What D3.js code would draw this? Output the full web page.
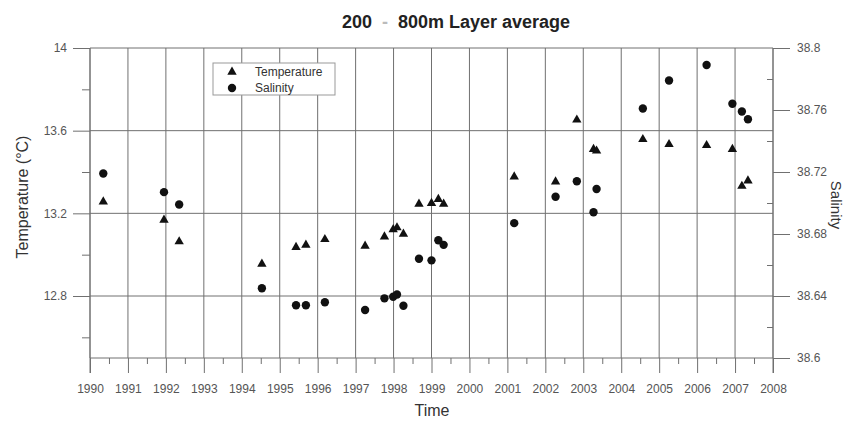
<!DOCTYPE html>
<html>
<head>
<meta charset="utf-8">
<script src="https://cdn.jsdelivr.net/npm/d3@7"></script>
<style>
  html, body { margin: 0; padding: 0; background: #fff; }
  svg { display: block; font-family: "Liberation Sans", Arial, sans-serif; }
</style>
</head>
<body>
<svg id="chart" width="845" height="421"></svg>
<script>
// ---- Data ----
const yearTicks = [1990,1991,1992,1993,1994,1995,1996,1997,1998,1999,2000,2001,2002,2003,2004,2005,2006,2007,2008];
const halfYearTicks = yearTicks.slice(0, -1).map(y => y + 0.5);
const tempTicks = [12.8, 13.2, 13.6, 14];
const tempMinorTicks = [12.6, 13.0, 13.4, 13.8];
const salTicks = [38.6, 38.64, 38.68, 38.72, 38.76, 38.8];
const salMinorTicks = [38.62, 38.66, 38.70, 38.74, 38.78];

const sampleTimes = [1990.35, 1991.95, 1992.35, 1994.53, 1995.43, 1995.69, 1996.19, 1997.25, 1997.76, 1997.99,
                     1998.09, 1998.26, 1998.67, 1999.00, 1999.18, 1999.32, 2001.18, 2002.27, 2002.83, 2003.27,
                     2003.35, 2004.57, 2005.26, 2006.25, 2006.93, 2007.18, 2007.34];
const temperature = [13.256, 13.168, 13.063, 12.955, 13.036, 13.047, 13.074, 13.042, 13.087, 13.122,
                     13.131, 13.100, 13.245, 13.249, 13.268, 13.245, 13.377, 13.353, 13.652, 13.510,
                     13.502, 13.558, 13.534, 13.529, 13.510, 13.332, 13.358];
const salinity = [38.719, 38.707, 38.699, 38.645, 38.634, 38.634, 38.636, 38.631, 38.6385, 38.6395,
                  38.641, 38.6337, 38.664, 38.663, 38.676, 38.673, 38.687, 38.704, 38.714, 38.694,
                  38.709, 38.761, 38.779, 38.789, 38.764, 38.759, 38.754];

(function () {
// ---- Layout ----
const svg = d3.select("#chart");
const pLeft = 90, pRight = 773, pTop = 48, pBottom = 358;

const x = d3.scaleLinear().domain([1990, 2008]).range([pLeft, pRight]);
const yT = d3.scaleLinear().domain([12.5, 14]).range([pBottom, pTop]);
const yS = d3.scaleLinear().domain([38.6, 38.8]).range([pBottom, pTop]);

const gridColor = "#707070";
const labelColor = "#555";

// vertical grid lines (year)
svg.append("g").selectAll("line").data(yearTicks).join("line")
  .attr("x1", d => x(d)).attr("x2", d => x(d))
  .attr("y1", pTop).attr("y2", pBottom)
  .attr("stroke", gridColor).attr("stroke-width", 1);

// horizontal grid lines (temperature)
svg.append("g").selectAll("line").data(tempTicks).join("line")
  .attr("x1", pLeft).attr("x2", pRight)
  .attr("y1", d => yT(d)).attr("y2", d => yT(d))
  .attr("stroke", gridColor).attr("stroke-width", 1);

// bottom line
svg.append("line").attr("x1", pLeft).attr("x2", pRight)
  .attr("y1", pBottom).attr("y2", pBottom)
  .attr("stroke", gridColor);

function styleAxis(g) {
  g.select(".domain").remove();
  g.selectAll(".tick line").attr("stroke", gridColor);
  g.selectAll(".tick text").attr("fill", labelColor).attr("font-size", 12)
    .attr("font-family", "'Liberation Sans', Arial, sans-serif");
}

// bottom axis
svg.append("g").attr("transform", `translate(0,${pBottom})`)
  .call(d3.axisBottom(x).tickValues(yearTicks).tickSize(15).tickPadding(11).tickFormat(d3.format("d")))
  .call(styleAxis);
svg.append("g").attr("transform", `translate(0,${pBottom})`)
  .call(d3.axisBottom(x).tickValues(halfYearTicks).tickSize(6).tickFormat(""))
  .call(styleAxis);

// left axis
svg.append("g").attr("transform", `translate(${pLeft},0)`)
  .call(d3.axisLeft(yT).tickValues(tempTicks).tickSize(17).tickPadding(6).tickFormat(d => String(d)))
  .call(styleAxis);
svg.append("g").attr("transform", `translate(${pLeft},0)`)
  .call(d3.axisLeft(yT).tickValues(tempMinorTicks).tickSize(8).tickFormat(""))
  .call(styleAxis);

// right axis
svg.append("g").attr("transform", `translate(${pRight},0)`)
  .call(d3.axisRight(yS).tickValues(salTicks).tickSize(17).tickPadding(7).tickFormat(d => String(d)))
  .call(styleAxis);
svg.append("g").attr("transform", `translate(${pRight},0)`)
  .call(d3.axisRight(yS).tickValues(salMinorTicks).tickSize(-6).tickFormat(""))
  .call(styleAxis);

// axis frame lines (left and right) extend down past bottom
svg.append("line").attr("x1", pLeft).attr("x2", pLeft).attr("y1", pTop).attr("y2", pBottom + 15).attr("stroke", gridColor);
svg.append("line").attr("x1", pRight).attr("x2", pRight).attr("y1", pTop).attr("y2", pBottom + 15).attr("stroke", gridColor);

// ---- Markers ----
const triangle = d3.symbol().type(d3.symbolTriangle).size(38);
const circle = d3.symbol().type(d3.symbolCircle).size(55);

svg.append("g").selectAll("path").data(sampleTimes).join("path")
  .attr("d", triangle)
  .attr("transform", (d, i) => `translate(${x(d)},${yT(temperature[i])})`)
  .attr("fill", "#111");

svg.append("g").selectAll("path").data(sampleTimes).join("path")
  .attr("d", circle)
  .attr("transform", (d, i) => `translate(${x(d)},${yS(salinity[i])})`)
  .attr("fill", "#111");

// ---- Legend ----
const legend = svg.append("g");
legend.append("rect").attr("x", 213).attr("y", 63).attr("width", 122).attr("height", 32)
  .attr("fill", "#fff").attr("stroke", "#999");
legend.append("path").attr("d", triangle).attr("transform", "translate(232,72)").attr("fill", "#111");
legend.append("path").attr("d", circle).attr("transform", "translate(232,88)").attr("fill", "#111");
legend.append("text").attr("x", 255).attr("y", 76).attr("font-size", 12).attr("fill", "#333").text("Temperature");
legend.append("text").attr("x", 255).attr("y", 92).attr("font-size", 12).attr("fill", "#333").text("Salinity");

// ---- Titles ----
const title = svg.append("text").attr("x", 456).attr("y", 28).attr("text-anchor", "middle")
  .attr("font-size", 18).attr("font-weight", "bold").attr("fill", "#222")
  .style("white-space", "pre");
title.append("tspan").text("200  ");
title.append("tspan").attr("fill", "#bbb").text("-");
title.append("tspan").text("  800m Layer average");

svg.append("text").attr("x", 432).attr("y", 416).attr("text-anchor", "middle")
  .attr("font-size", 16).attr("fill", "#333").text("Time");

svg.append("text").attr("transform", "translate(28,197) rotate(-90)").attr("text-anchor", "middle")
  .attr("font-size", 16).attr("fill", "#333").text("Temperature (°C)");

svg.append("text").attr("transform", "translate(831,205) rotate(90)").attr("text-anchor", "middle")
  .attr("font-size", 15).attr("fill", "#333").text("Salinity");
})();
</script>
</body>
</html>
